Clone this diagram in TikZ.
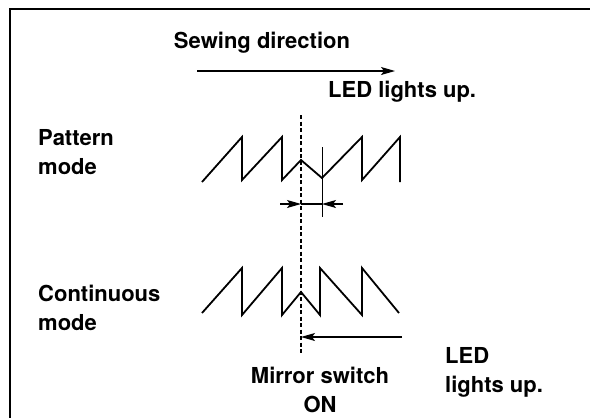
\documentclass[tikz,border=0pt]{standalone}
\usepackage{fontspec}
\setmainfont{TeX Gyre Heros}
\usetikzlibrary{arrows.meta}
\begin{document}
\begin{tikzpicture}[x=1pt,y=-1pt]
  \tikzset{label node/.style={font=\fontsize{22}{29}\selectfont\bfseries, align=left, inner sep=0pt},
    stitch/.style={line width=1.8pt, line join=miter},
    guide/.style={line width=1.2pt, -{Stealth[length=14pt,width=8pt,inset=3pt]}}}
  \useasboundingbox (0,0) rectangle (590,418);
  % frame, open at the right and bottom
  \draw[line width=1.8pt] (10,418) -- (10,9) -- (590,9);
  % labels
  \node[label node] (sewing) at (262,43) {Sewing direction};
  \node[label node, anchor=west] (ledtop) at (328,92) {LED lights up.};
  \node[label node, anchor=west] (pattern) at (38,152) {Pattern\\mode};
  \node[label node, anchor=west] (continuous) at (38,308) {Continuous\\mode};
  \node[label node, anchor=west] (ledbottom) at (445,372) {LED\\lights up.};
  \node[label node, align=center] (mirror) at (320,390) {Mirror switch\\ON};
  % sewing direction
  \coordinate (sewstart) at (197,71);
  \coordinate (sewend) at (395,71);
  \draw[guide] (sewstart) -- (sewend);
  % mirror line
  \coordinate (mirtop) at (301,115);
  \coordinate (mirbot) at (301,355);
  \draw[line width=1.2pt, dash pattern=on 4pt off 2.5pt] (mirtop) -- (mirbot);
  % pattern mode stitches
  \draw[stitch] (202,182) -- (242,137) -- (242,180) -- (282,137) -- (282,180)
    -- (301,160) -- (322,178) -- (362,137) -- (362,180) -- (400,137) -- (400,182);
  \coordinate (shifttop) at (322,147);
  \coordinate (shiftbot) at (322,217);
  \draw[line width=1pt] (shifttop) -- (shiftbot);
  \coordinate (dimleft) at (280,204);
  \coordinate (dimmir) at (301,204);
  \coordinate (dimshift) at (322,204);
  \coordinate (dimright) at (343,204);
  \draw[guide] (dimleft) -- (dimmir);
  \draw[guide] (dimright) -- (dimshift);
  \draw[line width=1.2pt] (dimmir) -- (dimshift);
  % continuous mode stitches
  \draw[stitch] (202,313) -- (242,268) -- (242,315) -- (282,268) -- (282,315)
    -- (301,292) -- (320,315) -- (320,268) -- (362,315) -- (362,268) -- (399,313);
  \coordinate (backstart) at (402,337);
  \coordinate (backend) at (301,337);
  \draw[guide] (backstart) -- (backend);
\end{tikzpicture}
\end{document}
